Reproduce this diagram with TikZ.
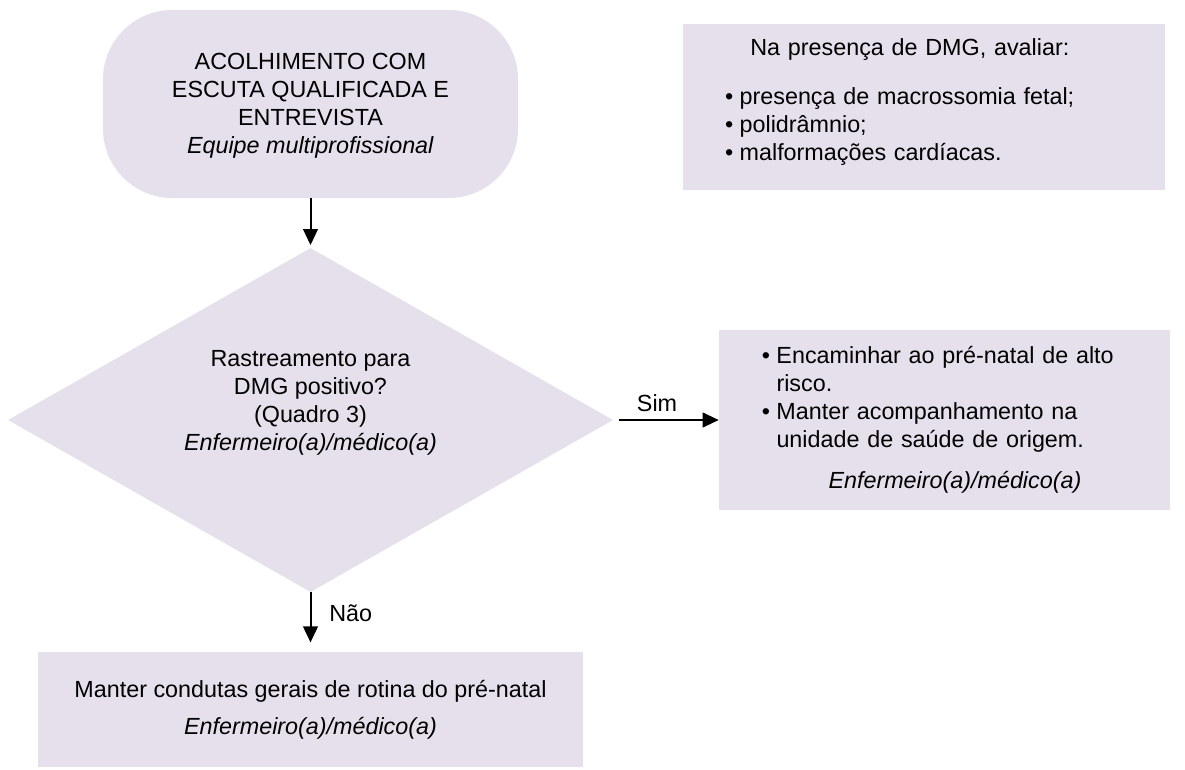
\documentclass[tikz,border=0pt]{standalone}
\usepackage{fontspec}
\setmainfont{Liberation Sans}
\usetikzlibrary{shapes.geometric,arrows.meta}
\newcommand{\bulletitem}{\makebox[11pt][l]{\textbullet}}
\newcommand{\bulletindent}{\hspace*{11pt}}

\begin{document}
\begin{tikzpicture}[x=0.75pt,y=-0.75pt,
  every node/.style={font=\fontsize{17.5}{21}\selectfont},
  panel/.style={fill=fillColor,draw=none,inner sep=0pt},
  arrowline/.style={draw=drawColor,line width=1.5pt,-{Triangle[length=12pt,width=11pt]}}]
\definecolor{fillColor}{RGB}{229,224,236}
\definecolor{drawColor}{RGB}{0,0,0}
\path[use as bounding box,fill=white] (0,0) rectangle (1185,769);

\node[panel,rectangle,rounded corners=52pt,minimum width=311.25pt,minimum height=141pt] (acolhimento) at (310.5,104) {};

\node[align=center] (acolhimentotxt) at (310.5,106) {ACOLHIMENTO COM\\ESCUTA QUALIFICADA E\\ENTREVISTA\\\textit{Equipe multiprofissional}};

\node[panel,diamond,minimum width=453.75pt,minimum height=258pt] (rastreamento) at (310.5,420) {};

\node[align=center] (rastreamentotxt) at (310.5,403) {Rastreamento para\\DMG positivo?\\(Quadro 3)\\\textit{Enfermeiro(a)/médico(a)}};

\node[panel,rectangle,minimum width=361.5pt,minimum height=124pt] (avaliar) at (924,107) {};

\node[text width=298.5pt,align=left] (avaliartxt) at (924,102) {\hspace*{19pt}Na presença de DMG, avaliar:\\[16pt]
\bulletitem presença de macrossomia fetal;\\
\bulletitem polidrâmnio;\\
\bulletitem malformações cardíacas.};

\node[panel,rectangle,minimum width=338.25pt,minimum height=135pt,inner xsep=32pt,text width=274pt,align=left] (altorisco) at (944.5,420) {\bulletitem Encaminhar ao pré-natal de alto\\
\bulletindent risco.\\
\bulletitem Manter acompanhamento na\\
\bulletindent unidade de saúde de origem.\\[10pt]
\hspace*{50pt}\textit{Enfermeiro(a)/médico(a)}};

\node[panel,rectangle,minimum width=408.75pt,minimum height=86.25pt,align=center] (rotina) at (310.5,709.5) {Manter condutas gerais de rotina do pré-natal\\[7pt]
\textit{Enfermeiro(a)/médico(a)}};

\draw[arrowline,shorten >=2pt] (acolhimento.south) -- (rastreamento.north);

\draw[arrowline,shorten <=4pt] (rastreamento.east) -- node[pos=0.415,above=2pt] (sim) {Sim} (altorisco.west);

\draw[arrowline,shorten >=7pt] (rastreamento.south) -- node[pos=0.35,right=10pt] (nao) {Não} (rotina.north);
\end{tikzpicture}
\end{document}
